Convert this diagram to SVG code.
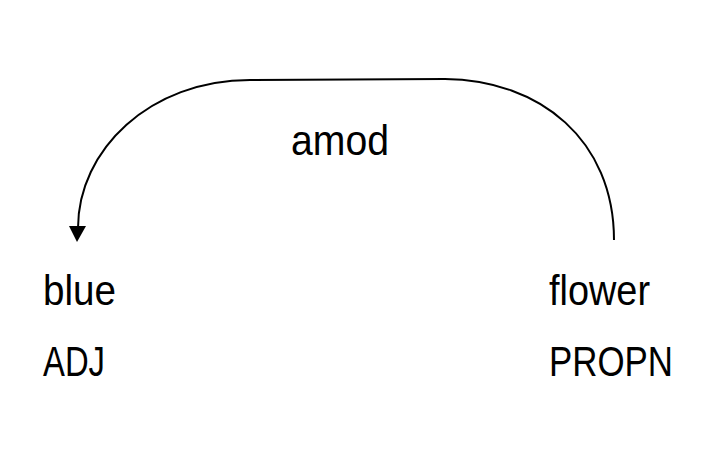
<svg xmlns="http://www.w3.org/2000/svg" width="709" height="461" viewBox="0 0 709 461">
<style>
.t{font-family:"Liberation Sans",Arial,sans-serif;font-size:42px;fill:#000}
.arc{fill:none;stroke:#000;stroke-width:2}
</style>
<rect width="709" height="461" fill="#fff"/>
<g id="node-blue">
<text class="t" x="43" y="305" textLength="73" lengthAdjust="spacingAndGlyphs">blue</text>
<text class="t" x="43" y="376" textLength="62" lengthAdjust="spacingAndGlyphs">ADJ</text>
</g>
<g id="node-flower">
<text class="t" x="549" y="305" textLength="101" lengthAdjust="spacingAndGlyphs">flower</text>
<text class="t" x="549" y="376" textLength="124" lengthAdjust="spacingAndGlyphs">PROPN</text>
</g>
<g id="connectors">
<path class="arc" d="M614,240 C614,140 540,80 445,79 L250,80 C150,80 78,150 78,228"/>
<polygon points="69,226 86,226 77,242" fill="#000"/>
<text class="t" x="291" y="155" textLength="98" lengthAdjust="spacingAndGlyphs">amod</text>
</g>
</svg>
